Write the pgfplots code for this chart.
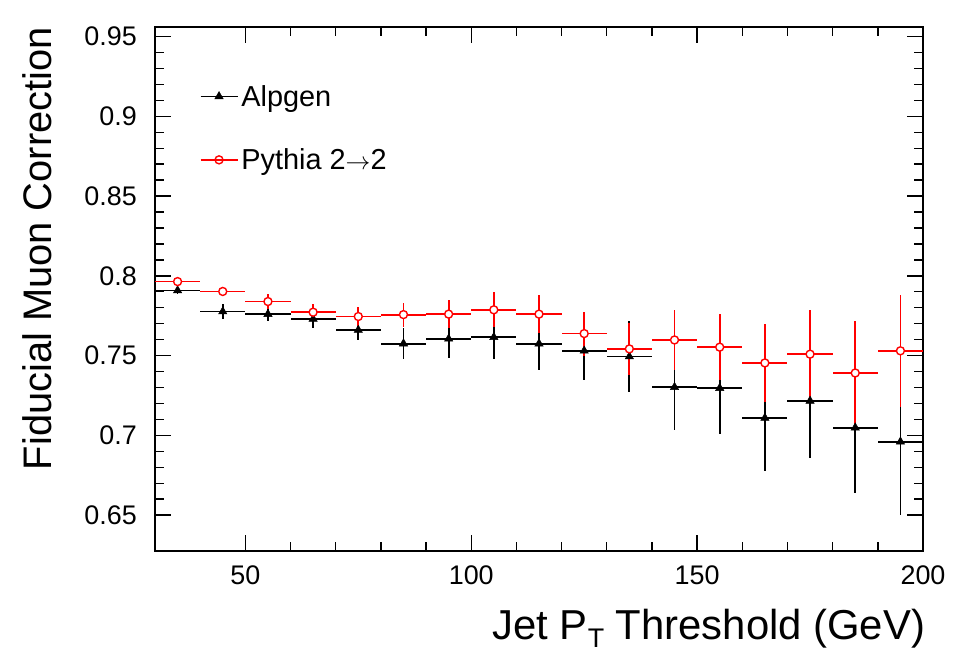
\documentclass[border=0pt]{standalone}
\usepackage{fontspec}
\setmainfont{Liberation Sans}
\usepackage{pgfplots}
\pgfplotsset{compat=1.18}

\definecolor{rootred}{RGB}{255,0,0}

% bins of 10 GeV, centres 35 ... 195; columns: x, y, x error, y error
\pgfplotstableread{
x   y      ex  ey
35  0.7908 5   0.0020
45  0.7776 5   0.0045
55  0.7760 5   0.0044
65  0.7730 5   0.0060
75  0.7660 5   0.0060
85  0.7575 5   0.0095
95  0.7605 5   0.0117
105 0.7615 5   0.0136
115 0.7575 5   0.0165
125 0.7530 5   0.0180
135 0.7494 5   0.0220
145 0.7302 5   0.0268
155 0.7296 5   0.0287
165 0.7109 5   0.0333
175 0.7216 5   0.0360
185 0.7048 5   0.0412
195 0.6960 5   0.0460
}\alpgen

\pgfplotstableread{
x   y      ex  ey
35  0.7964 5   0.0020
45  0.7902 5   0.0030
55  0.7839 5   0.0046
65  0.7772 5   0.0052
75  0.7745 5   0.0060
85  0.7757 5   0.0075
95  0.7760 5   0.0090
105 0.7787 5   0.0109
115 0.7760 5   0.0117
125 0.7638 5   0.0138
135 0.7542 5   0.0165
145 0.7598 5   0.0188
155 0.7553 5   0.0207
165 0.7454 5   0.0245
175 0.7509 5   0.0278
185 0.7391 5   0.0324
195 0.7530 5   0.0353
}\pythia

\begin{document}
\begin{tikzpicture}
\path[use as bounding box] (-155bp,-103bp) rectangle (813bp,551bp);
\begin{axis}[
    scale only axis,
    width=768bp, height=524bp,
    xmin=30, xmax=200,
    ymin=0.6275, ymax=0.956,
    xtick={50,100,150,200},
    ytick={0.65,0.7,0.75,0.8,0.85,0.9,0.95},
    minor x tick num=4,
    minor y tick num=4,
    tick align=inside,
    tick pos=both,
    major tick length=16bp,
    minor tick length=9bp,
    axis line style={line width=1.6bp},
    every tick/.style={black, line width=1.4bp},
    /pgf/number format/assume math mode=true,
    tick label style={font=\fontsize{27}{30}\selectfont, inner sep=0pt},
    yticklabel shift=18bp,
    xticklabel shift=15bp,
    xlabel={Jet P\raisebox{-8bp}{\fontsize{27}{30}\selectfont T} Threshold (GeV)},
    ylabel={Fiducial Muon Correction},
    xlabel style={font=\fontsize{42}{46}\selectfont, at={(axis description cs:1.003,-0.168)}, anchor=base east, inner sep=0pt},
    ylabel style={font=\fontsize{40}{44}\selectfont, at={(axis description cs:-0.1536,1.0)}, anchor=east, inner sep=0pt},
    legend style={draw=none, fill=none, font=\fontsize{29}{32}\selectfont,
        at={(axis description cs:0.058,0.895)}, anchor=north west,
        row sep=35bp, inner sep=0pt,
        nodes={inner sep=3bp}},
    legend cell align=left,
    legend image code/.code={
        \draw[mark repeat=2,mark phase=2,#1]
            plot coordinates {(0bp,0bp) (18.5bp,0bp) (37bp,0bp)};
    },
    error bars/x dir=both, error bars/x explicit,
    error bars/y dir=both, error bars/y explicit,
    error bars/error mark=none,
]

\addlegendimage{black, line width=1.6bp, mark=triangle*, mark size=4.8bp, mark options={solid, line width=0.5bp}}
\addlegendentry{Alpgen}
\addlegendimage{rootred, line width=1.6bp, mark=o, mark size=4bp, mark options={solid, fill=white, line width=1.4bp}}
\addlegendentry{Pythia 2$\rightarrow$2}

\addplot[forget plot, only marks, black, mark=triangle*, mark size=4.8bp,
    mark options={line width=0.5bp},
    error bars/error bar style={line width=1.8bp, black}]
    table[x=x, y=y, x error=ex, y error=ey] {\alpgen};

\addplot[forget plot, only marks, rootred, mark=*, mark size=4bp,
    mark options={fill=white, draw=rootred, line width=1.4bp},
    error bars/error bar style={line width=1.8bp, rootred}]
    table[x=x, y=y, x error=ex, y error=ey] {\pythia};

\end{axis}
\end{tikzpicture}
\end{document}
